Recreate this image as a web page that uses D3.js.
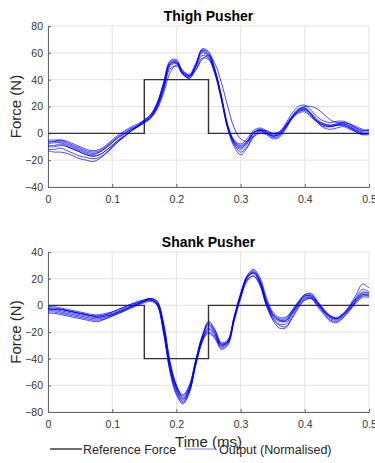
<!DOCTYPE html>
<html><head><meta charset="utf-8">
<script src="https://cdn.jsdelivr.net/npm/d3@7"></script>
<style>body{margin:0;background:#fff}svg{display:block;font-family:"Liberation Sans",Arial,sans-serif}</style>
</head><body><svg id="c" width="375" height="463"></svg>
<script>
const time = [0,0.01,0.02,0.03,0.04,0.05,0.06,0.07,0.08,0.09,0.10,0.11,0.12,0.13,0.14,0.15,0.16,0.17,0.18,0.19,0.20,0.21,0.22,0.23,0.24,0.25,0.26,0.27,0.28,0.29,0.30,0.31,0.32,0.33,0.34,0.35,0.36,0.37,0.38,0.39,0.40,0.41,0.42,0.43,0.44,0.45,0.46,0.47,0.48,0.49,0.50];
const refTime = [0,0.15,0.15,0.25,0.25,0.5];
const thighRef = [0,0,40,40,0,0];
const shankRef = [0,0,-40,-40,0,0];
const xTicks = [0,0.1,0.2,0.3,0.4,0.5];
const thighYTicks = [-40,-20,0,20,40,60,80];
const shankYTicks = [-80,-60,-40,-20,0,20,40];

const thigh1 = [-8,-7,-7,-9,-11,-13,-15,-16,-14,-11,-7,-3,0,3,5,8,12,20,35,52,53,45,43,50,60,57,46,27,6,-6,-10,-6,1,2,0,-2,0,5,12,17,18,14,9,7,6,7,7,5,3,1,1];
const thigh2 = [-5,-5,-5,-7,-9,-11,-13,-14,-13,-10,-6,-2,1,4,6,9,13,22,38,54,55,46,44,52,62,59,47,28,5,-8,-12,-8,0,3,1,-2,-1,4,11,17,19,15,10,7,6,7,8,6,4,2,2];
const thigh3 = [-12,-12,-11,-13,-15,-17,-18,-19,-18,-15,-10,-6,-2,2,5,8,12,20,33,50,52,44,42,49,58,56,45,26,4,-8,-14,-10,-2,1,0,-3,-2,4,12,16,17,13,8,5,5,6,6,4,1,-1,0];
const thigh4 = [-9,-9,-8,-10,-12,-14,-16,-17,-16,-13,-9,-5,-1,2,5,9,12,18,30,45,51,47,43,47,55,58,52,38,20,4,-4,-6,-2,2,2,0,1,6,13,18,20,20,18,14,10,8,8,7,5,3,2];
const thigh5 = [-7,-6,-6,-8,-10,-12,-14,-15,-14,-11,-7,-3,0,3,6,10,14,23,37,53,54,46,43,51,61,58,46,26,5,-7,-11,-7,0,3,1,-1,0,5,12,18,19,14,9,6,5,6,7,5,2,0,0];
const thigh6 = [-10,-10,-9,-10,-12,-14,-16,-17,-16,-13,-9,-5,-2,2,5,8,11,19,32,48,50,44,41,47,56,55,44,25,4,-6,-9,-6,0,2,0,-2,-1,5,11,15,16,12,8,6,5,6,6,4,2,0,0];
const thigh7 = [-13,-14,-14,-15,-17,-19,-20,-21,-19,-15,-11,-6,-2,2,6,9,13,21,36,52,53,44,41,50,62,60,47,27,3,-10,-16,-11,-3,0,-1,-4,-3,3,11,16,18,14,8,4,3,4,5,3,1,-1,-1];
const thigh8 = [-6,-6,-5,-6,-8,-10,-12,-13,-12,-9,-5,-1,2,5,7,10,14,22,36,51,53,45,42,50,63,61,48,28,6,-5,-8,-4,2,4,2,0,1,7,15,20,21,17,12,9,8,9,9,7,4,2,3];

const shank1 = [-3,-3,-4,-5,-6,-7,-8,-9,-9,-8,-7,-5,-3,-1,1,3,4,1,-18,-47,-63,-71,-63,-43,-26,-15,-21,-30,-27,-9,8,21,24,17,2,-8,-12,-12,-6,1,6,6,1,-5,-9,-10,-7,-2,4,8,8];
const shank2 = [-1,-1,-2,-3,-4,-5,-6,-7,-7,-6,-5,-3,-1,1,3,4,5,2,-16,-45,-61,-67,-60,-41,-24,-12,-18,-28,-26,-8,9,22,26,19,4,-6,-10,-10,-4,2,7,7,2,-4,-8,-9,-6,-1,5,10,9];
const shank3 = [-5,-5,-6,-7,-8,-9,-10,-11,-11,-10,-8,-6,-4,-2,0,2,3,0,-20,-49,-66,-74,-66,-45,-28,-18,-23,-32,-29,-11,6,19,22,15,0,-10,-15,-16,-9,-1,4,5,0,-6,-11,-12,-9,-3,3,7,7];
const shank4 = [-2,-3,-3,-4,-5,-6,-7,-8,-8,-7,-6,-4,-2,0,2,4,5,2,-15,-44,-62,-70,-64,-44,-25,-20,-24,-31,-28,-10,7,20,25,19,3,-7,-11,-11,-5,2,8,8,2,-4,-8,-10,-7,-1,6,12,10];
const shank5 = [-4,-4,-5,-6,-7,-8,-9,-10,-10,-9,-7,-5,-3,-1,1,3,4,1,-19,-48,-64,-72,-64,-44,-27,-17,-22,-30,-28,-10,7,21,24,17,1,-9,-14,-14,-7,0,5,6,1,-5,-10,-11,-8,-3,3,8,7];
const shank6 = [-3,-3,-3,-4,-5,-6,-7,-8,-9,-8,-7,-5,-3,-1,1,3,5,3,-14,-43,-60,-68,-61,-42,-24,-13,-19,-29,-27,-10,8,22,27,21,6,-5,-9,-9,-4,3,8,9,3,-3,-8,-10,-7,0,8,16,13];
const shank7 = [-6,-6,-7,-8,-9,-10,-11,-12,-12,-10,-8,-6,-4,-1,1,3,4,0,-21,-50,-67,-73,-65,-45,-27,-21,-25,-33,-30,-12,5,18,22,16,0,-11,-17,-17,-10,-2,4,5,-1,-7,-12,-13,-9,-4,2,6,6];
const shank8 = [-2,-2,-3,-4,-5,-6,-7,-8,-8,-7,-5,-3,-1,1,2,4,5,3,-13,-42,-60,-69,-62,-42,-23,-14,-20,-29,-27,-9,8,21,25,18,3,-7,-11,-12,-6,1,7,7,2,-4,-9,-10,-6,-1,5,9,9];

const panels = [
  {title:"Thigh Pusher", top:26, bottom:187, domain:[-40,80], yTicks:thighYTicks, ref:thighRef,
   traces:[thigh1,thigh2,thigh3,thigh4,thigh5,thigh6,thigh7,thigh8], titleY:21},
  {title:"Shank Pusher", top:252, bottom:412, domain:[-80,40], yTicks:shankYTicks, ref:shankRef,
   traces:[shank1,shank2,shank3,shank4,shank5,shank6,shank7,shank8], titleY:247}
];

const svg = d3.select("#c");
const left = 48, right = 369;
const x = d3.scaleLinear().domain([0,0.5]).range([left,right]);
const blue = "#0000ff";

panels.forEach(p => {
  const y = d3.scaleLinear().domain(p.domain).range([p.bottom,p.top]);
  const g = svg.append("g");
  g.selectAll(".gx").data(xTicks).join("line")
    .attr("x1",d=>x(d)).attr("x2",d=>x(d)).attr("y1",p.top).attr("y2",p.bottom)
    .attr("stroke","#e3e3e3").attr("stroke-width",1);
  g.selectAll(".gy").data(p.yTicks).join("line")
    .attr("x1",left).attr("x2",right).attr("y1",d=>y(d)).attr("y2",d=>y(d))
    .attr("stroke","#e3e3e3").attr("stroke-width",1);
  const xa = g.append("g").attr("transform",`translate(0,${p.bottom})`)
    .call(d3.axisBottom(x).tickValues(xTicks).tickSizeInner(-3).tickSizeOuter(0).tickPadding(9).tickFormat(d=>d===0?"0":d3.format(".1f")(d)));
  const ya = g.append("g").attr("transform",`translate(${left},0)`)
    .call(d3.axisLeft(y).tickValues(p.yTicks).tickSizeInner(-3).tickSizeOuter(0).tickPadding(5));
  [xa,ya].forEach(a=>{
    a.select(".domain").attr("stroke","#666").attr("stroke-width",1);
    a.selectAll(".tick line").attr("stroke","#666");
    a.selectAll("text").attr("fill","#333").style("font-size","10.5px").style("font-family","Liberation Sans, Arial, sans-serif");
  });
  const refLine = d3.line().x((d,i)=>x(refTime[i])).y(d=>y(d));
  g.append("path").attr("d",refLine(p.ref)).attr("fill","none")
    .attr("stroke","#333").attr("stroke-width",1.4);
  const line = d3.line().x((d,i)=>x(time[i])).y(d=>y(d)).curve(d3.curveCatmullRom.alpha(0.5));
  g.selectAll(".tr").data(p.traces).join("path")
    .attr("d",line).attr("fill","none").attr("stroke",blue)
    .attr("stroke-width",1).attr("stroke-opacity",0.72);
  g.append("text").attr("x",(left+right)/2).attr("y",p.titleY).attr("text-anchor","middle")
    .style("font-size","14px").style("font-weight","bold").attr("fill","#000").text(p.title);
  g.append("text").attr("transform",`translate(21,${(p.top+p.bottom)/2}) rotate(-90)`)
    .attr("text-anchor","middle").style("font-size","15px").attr("fill","#262626").text("Force (N)");
});

svg.append("text").attr("x",(left+right)/2).attr("y",447).attr("text-anchor","middle")
  .style("font-size","15px").attr("fill","#262626").text("Time (ms)");

const lg = svg.append("g");
const legendItems = [
  {label:"Reference Force", color:"#333", w:1.4, x1:50, x2:82, tx:83},
  {label:"Output (Normalised)", color:"#7a7aff", w:1, x1:185, x2:215, tx:219}
];
legendItems.forEach(it=>{
  lg.append("line").attr("x1",it.x1).attr("x2",it.x2).attr("y1",449).attr("y2",449)
    .attr("stroke",it.color).attr("stroke-width",it.w);
  lg.append("text").attr("x",it.tx).attr("y",454).style("font-size","12.5px").attr("fill","#262626").text(it.label);
});
</script></body></html>
